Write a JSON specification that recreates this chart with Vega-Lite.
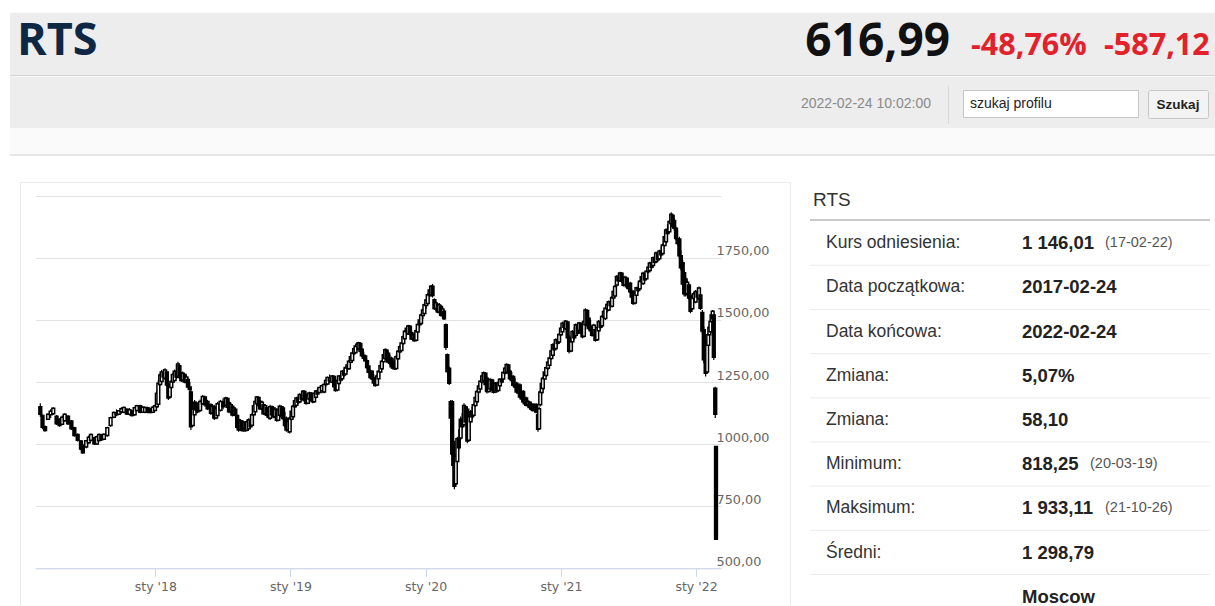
{
  "$schema": "https://vega.github.io/schema/vega-lite/v6.json",
  "width": 1215,
  "height": 606,
  "autosize": {"type": "none"},
  "padding": 0,
  "background": "#ffffff",
  "config": {"view": {"stroke": null}, "text": {"font": "Liberation Sans"}},
  "datasets": {
    "rts": [
      {"d":"2017-02-24","o":1150,"h":1164,"l":1110,"c":1120},
      {"d":"2017-03-02","o":1115,"h":1120,"l":1060,"c":1068},
      {"d":"2017-03-09","o":1070,"h":1075,"l":1050,"c":1055},
      {"d":"2017-03-17","o":1100,"h":1124,"l":1097,"c":1120},
      {"d":"2017-03-24","o":1118,"h":1140,"l":1105,"c":1132},
      {"d":"2017-03-31","o":1122,"h":1148,"l":1117,"c":1144},
      {"d":"2017-04-09","o":1112,"h":1117,"l":1077,"c":1082},
      {"d":"2017-04-17","o":1100,"h":1104,"l":1070,"c":1075},
      {"d":"2017-04-24","o":1080,"h":1115,"l":1076,"c":1108},
      {"d":"2017-05-01","o":1094,"h":1124,"l":1090,"c":1120},
      {"d":"2017-05-10","o":1112,"h":1117,"l":1077,"c":1082},
      {"d":"2017-05-19","o":1093,"h":1097,"l":1057,"c":1062},
      {"d":"2017-05-27","o":1066,"h":1070,"l":1030,"c":1035},
      {"d":"2017-06-05","o":1039,"h":1043,"l":1010,"c":1015},
      {"d":"2017-06-14","o":1012,"h":1017,"l":975,"c":980},
      {"d":"2017-06-19","o":995,"h":1000,"l":960,"c":965},
      {"d":"2017-06-28","o":988,"h":1017,"l":983,"c":1013},
      {"d":"2017-07-05","o":1005,"h":1035,"l":1000,"c":1028},
      {"d":"2017-07-11","o":1015,"h":1043,"l":1010,"c":1039},
      {"d":"2017-07-20","o":1026,"h":1030,"l":996,"c":1001},
      {"d":"2017-07-27","o":1000,"h":1035,"l":996,"c":1030},
      {"d":"2017-08-02","o":1014,"h":1043,"l":1010,"c":1039},
      {"d":"2017-08-08","o":1036,"h":1040,"l":1012,"c":1018},
      {"d":"2017-08-15","o":1020,"h":1043,"l":1017,"c":1040},
      {"d":"2017-08-24","o":1035,"h":1070,"l":1030,"c":1066},
      {"d":"2017-09-02","o":1075,"h":1110,"l":1070,"c":1106},
      {"d":"2017-09-11","o":1108,"h":1131,"l":1104,"c":1127},
      {"d":"2017-09-18","o":1125,"h":1140,"l":1112,"c":1118},
      {"d":"2017-09-24","o":1120,"h":1137,"l":1117,"c":1134},
      {"d":"2017-10-01","o":1130,"h":1148,"l":1122,"c":1142},
      {"d":"2017-10-08","o":1128,"h":1151,"l":1124,"c":1147},
      {"d":"2017-10-16","o":1140,"h":1144,"l":1117,"c":1121},
      {"d":"2017-10-23","o":1120,"h":1145,"l":1115,"c":1138},
      {"d":"2017-10-30","o":1133,"h":1137,"l":1111,"c":1115},
      {"d":"2017-11-06","o":1118,"h":1150,"l":1114,"c":1146},
      {"d":"2017-11-12","o":1135,"h":1158,"l":1131,"c":1154},
      {"d":"2017-11-21","o":1154,"h":1158,"l":1124,"c":1128},
      {"d":"2017-11-28","o":1128,"h":1152,"l":1125,"c":1148},
      {"d":"2017-12-04","o":1128,"h":1151,"l":1124,"c":1147},
      {"d":"2017-12-11","o":1146,"h":1150,"l":1124,"c":1130},
      {"d":"2017-12-18","o":1141,"h":1144,"l":1124,"c":1127},
      {"d":"2017-12-25","o":1128,"h":1152,"l":1125,"c":1148},
      {"d":"2017-12-31","o":1135,"h":1158,"l":1131,"c":1154},
      {"d":"2018-01-05","o":1150,"h":1215,"l":1145,"c":1205},
      {"d":"2018-01-09","o":1160,"h":1258,"l":1151,"c":1245},
      {"d":"2018-01-14","o":1240,"h":1285,"l":1235,"c":1278},
      {"d":"2018-01-18","o":1252,"h":1298,"l":1245,"c":1290},
      {"d":"2018-01-23","o":1285,"h":1302,"l":1262,"c":1270},
      {"d":"2018-01-27","o":1265,"h":1305,"l":1258,"c":1298},
      {"d":"2018-02-01","o":1290,"h":1295,"l":1230,"c":1238},
      {"d":"2018-02-05","o":1238,"h":1245,"l":1178,"c":1186},
      {"d":"2018-02-09","o":1190,"h":1240,"l":1185,"c":1232},
      {"d":"2018-02-13","o":1228,"h":1258,"l":1224,"c":1252},
      {"d":"2018-02-17","o":1250,"h":1285,"l":1245,"c":1280},
      {"d":"2018-02-22","o":1256,"h":1300,"l":1250,"c":1293},
      {"d":"2018-02-27","o":1290,"h":1320,"l":1262,"c":1270},
      {"d":"2018-03-03","o":1272,"h":1332,"l":1265,"c":1322},
      {"d":"2018-03-07","o":1315,"h":1320,"l":1262,"c":1270},
      {"d":"2018-03-12","o":1285,"h":1290,"l":1250,"c":1256},
      {"d":"2018-03-16","o":1258,"h":1292,"l":1252,"c":1285},
      {"d":"2018-03-21","o":1280,"h":1285,"l":1245,"c":1250},
      {"d":"2018-03-26","o":1250,"h":1278,"l":1240,"c":1270},
      {"d":"2018-03-30","o":1260,"h":1265,"l":1225,"c":1230},
      {"d":"2018-04-04","o":1230,"h":1250,"l":1210,"c":1220},
      {"d":"2018-04-07","o":1210,"h":1218,"l":1057,"c":1070},
      {"d":"2018-04-12","o":1075,"h":1150,"l":1070,"c":1140},
      {"d":"2018-04-17","o":1118,"h":1178,"l":1111,"c":1168},
      {"d":"2018-04-21","o":1165,"h":1172,"l":1130,"c":1138},
      {"d":"2018-04-25","o":1160,"h":1164,"l":1124,"c":1130},
      {"d":"2018-05-02","o":1135,"h":1180,"l":1130,"c":1172},
      {"d":"2018-05-09","o":1162,"h":1198,"l":1158,"c":1192},
      {"d":"2018-05-15","o":1190,"h":1195,"l":1150,"c":1158},
      {"d":"2018-05-22","o":1172,"h":1178,"l":1137,"c":1142},
      {"d":"2018-05-31","o":1158,"h":1164,"l":1117,"c":1124},
      {"d":"2018-06-04","o":1125,"h":1160,"l":1120,"c":1152},
      {"d":"2018-06-09","o":1150,"h":1158,"l":1097,"c":1105},
      {"d":"2018-06-14","o":1105,"h":1150,"l":1100,"c":1142},
      {"d":"2018-06-18","o":1115,"h":1170,"l":1110,"c":1162},
      {"d":"2018-06-26","o":1136,"h":1178,"l":1131,"c":1172},
      {"d":"2018-07-03","o":1170,"h":1185,"l":1140,"c":1150},
      {"d":"2018-07-10","o":1156,"h":1191,"l":1151,"c":1186},
      {"d":"2018-07-15","o":1184,"h":1188,"l":1140,"c":1148},
      {"d":"2018-07-19","o":1166,"h":1171,"l":1124,"c":1130},
      {"d":"2018-07-24","o":1132,"h":1165,"l":1128,"c":1158},
      {"d":"2018-07-28","o":1152,"h":1158,"l":1111,"c":1117},
      {"d":"2018-08-01","o":1118,"h":1150,"l":1114,"c":1145},
      {"d":"2018-08-05","o":1140,"h":1144,"l":1111,"c":1116},
      {"d":"2018-08-10","o":1115,"h":1118,"l":1062,"c":1068},
      {"d":"2018-08-14","o":1098,"h":1104,"l":1050,"c":1057},
      {"d":"2018-08-19","o":1058,"h":1100,"l":1052,"c":1094},
      {"d":"2018-08-23","o":1092,"h":1097,"l":1050,"c":1056},
      {"d":"2018-08-28","o":1055,"h":1092,"l":1050,"c":1088},
      {"d":"2018-09-01","o":1086,"h":1090,"l":1050,"c":1055},
      {"d":"2018-09-05","o":1056,"h":1095,"l":1052,"c":1090},
      {"d":"2018-09-10","o":1062,"h":1104,"l":1057,"c":1098},
      {"d":"2018-09-15","o":1098,"h":1115,"l":1062,"c":1070},
      {"d":"2018-09-19","o":1076,"h":1124,"l":1070,"c":1118},
      {"d":"2018-09-24","o":1118,"h":1160,"l":1114,"c":1154},
      {"d":"2018-09-28","o":1130,"h":1178,"l":1124,"c":1172},
      {"d":"2018-10-02","o":1162,"h":1194,"l":1158,"c":1190},
      {"d":"2018-10-07","o":1188,"h":1192,"l":1148,"c":1155},
      {"d":"2018-10-11","o":1172,"h":1178,"l":1137,"c":1142},
      {"d":"2018-10-16","o":1142,"h":1175,"l":1138,"c":1168},
      {"d":"2018-10-20","o":1158,"h":1164,"l":1117,"c":1122},
      {"d":"2018-10-25","o":1122,"h":1160,"l":1118,"c":1154},
      {"d":"2018-10-29","o":1146,"h":1151,"l":1111,"c":1116},
      {"d":"2018-11-03","o":1116,"h":1150,"l":1100,"c":1108},
      {"d":"2018-11-07","o":1104,"h":1158,"l":1097,"c":1150},
      {"d":"2018-11-12","o":1150,"h":1155,"l":1110,"c":1118},
      {"d":"2018-11-16","o":1145,"h":1151,"l":1104,"c":1110},
      {"d":"2018-11-20","o":1110,"h":1148,"l":1105,"c":1140},
      {"d":"2018-11-25","o":1138,"h":1144,"l":1090,"c":1096},
      {"d":"2018-11-29","o":1096,"h":1145,"l":1092,"c":1138},
      {"d":"2018-12-03","o":1116,"h":1158,"l":1111,"c":1152},
      {"d":"2018-12-08","o":1150,"h":1155,"l":1105,"c":1110},
      {"d":"2018-12-12","o":1145,"h":1151,"l":1097,"c":1103},
      {"d":"2018-12-17","o":1102,"h":1130,"l":1068,"c":1075},
      {"d":"2018-12-21","o":1104,"h":1111,"l":1050,"c":1057},
      {"d":"2018-12-26","o":1057,"h":1100,"l":1045,"c":1090},
      {"d":"2018-12-30","o":1050,"h":1111,"l":1043,"c":1104},
      {"d":"2019-01-04","o":1100,"h":1140,"l":1095,"c":1132},
      {"d":"2019-01-08","o":1110,"h":1158,"l":1104,"c":1152},
      {"d":"2019-01-13","o":1150,"h":1180,"l":1145,"c":1175},
      {"d":"2019-01-17","o":1156,"h":1191,"l":1151,"c":1186},
      {"d":"2019-01-22","o":1185,"h":1195,"l":1160,"c":1168},
      {"d":"2019-01-26","o":1170,"h":1205,"l":1164,"c":1200},
      {"d":"2019-01-31","o":1198,"h":1212,"l":1175,"c":1182},
      {"d":"2019-02-04","o":1183,"h":1218,"l":1178,"c":1213},
      {"d":"2019-02-08","o":1212,"h":1216,"l":1170,"c":1176},
      {"d":"2019-02-12","o":1199,"h":1205,"l":1158,"c":1164},
      {"d":"2019-02-17","o":1164,"h":1205,"l":1160,"c":1198},
      {"d":"2019-02-21","o":1182,"h":1211,"l":1178,"c":1206},
      {"d":"2019-02-26","o":1205,"h":1210,"l":1170,"c":1176},
      {"d":"2019-03-02","o":1200,"h":1205,"l":1164,"c":1170},
      {"d":"2019-03-06","o":1170,"h":1210,"l":1166,"c":1204},
      {"d":"2019-03-11","o":1189,"h":1218,"l":1185,"c":1214},
      {"d":"2019-03-15","o":1212,"h":1225,"l":1196,"c":1202},
      {"d":"2019-03-20","o":1208,"h":1231,"l":1205,"c":1228},
      {"d":"2019-03-27","o":1215,"h":1240,"l":1205,"c":1235},
      {"d":"2019-04-02","o":1210,"h":1245,"l":1205,"c":1240},
      {"d":"2019-04-07","o":1240,"h":1262,"l":1232,"c":1256},
      {"d":"2019-04-11","o":1242,"h":1272,"l":1238,"c":1268},
      {"d":"2019-04-17","o":1255,"h":1280,"l":1245,"c":1262},
      {"d":"2019-04-24","o":1249,"h":1278,"l":1245,"c":1274},
      {"d":"2019-04-29","o":1272,"h":1276,"l":1226,"c":1232},
      {"d":"2019-05-03","o":1246,"h":1251,"l":1211,"c":1216},
      {"d":"2019-05-08","o":1218,"h":1262,"l":1213,"c":1256},
      {"d":"2019-05-12","o":1244,"h":1278,"l":1240,"c":1274},
      {"d":"2019-05-17","o":1270,"h":1288,"l":1250,"c":1258},
      {"d":"2019-05-21","o":1263,"h":1298,"l":1258,"c":1293},
      {"d":"2019-05-26","o":1290,"h":1305,"l":1270,"c":1278},
      {"d":"2019-05-30","o":1282,"h":1312,"l":1278,"c":1308},
      {"d":"2019-06-04","o":1305,"h":1325,"l":1290,"c":1318},
      {"d":"2019-06-08","o":1303,"h":1339,"l":1298,"c":1334},
      {"d":"2019-06-13","o":1330,"h":1358,"l":1325,"c":1352},
      {"d":"2019-06-17","o":1337,"h":1372,"l":1332,"c":1367},
      {"d":"2019-06-22","o":1365,"h":1390,"l":1358,"c":1384},
      {"d":"2019-06-26","o":1369,"h":1399,"l":1365,"c":1395},
      {"d":"2019-06-30","o":1393,"h":1408,"l":1378,"c":1402},
      {"d":"2019-07-04","o":1383,"h":1412,"l":1379,"c":1408},
      {"d":"2019-07-09","o":1405,"h":1410,"l":1368,"c":1374},
      {"d":"2019-07-13","o":1382,"h":1386,"l":1352,"c":1356},
      {"d":"2019-07-18","o":1358,"h":1372,"l":1340,"c":1346},
      {"d":"2019-07-22","o":1355,"h":1359,"l":1332,"c":1336},
      {"d":"2019-07-27","o":1336,"h":1340,"l":1302,"c":1308},
      {"d":"2019-07-31","o":1314,"h":1318,"l":1285,"c":1289},
      {"d":"2019-08-05","o":1290,"h":1300,"l":1262,"c":1268},
      {"d":"2019-08-09","o":1293,"h":1298,"l":1258,"c":1263},
      {"d":"2019-08-14","o":1262,"h":1282,"l":1240,"c":1246},
      {"d":"2019-08-18","o":1267,"h":1272,"l":1231,"c":1236},
      {"d":"2019-08-23","o":1238,"h":1280,"l":1234,"c":1274},
      {"d":"2019-08-27","o":1263,"h":1298,"l":1258,"c":1293},
      {"d":"2019-09-01","o":1290,"h":1320,"l":1285,"c":1315},
      {"d":"2019-09-05","o":1303,"h":1339,"l":1298,"c":1334},
      {"d":"2019-09-10","o":1332,"h":1365,"l":1328,"c":1360},
      {"d":"2019-09-14","o":1345,"h":1386,"l":1339,"c":1380},
      {"d":"2019-09-18","o":1378,"h":1384,"l":1340,"c":1346},
      {"d":"2019-09-22","o":1366,"h":1372,"l":1325,"c":1331},
      {"d":"2019-09-27","o":1330,"h":1360,"l":1318,"c":1325},
      {"d":"2019-10-01","o":1346,"h":1352,"l":1305,"c":1311},
      {"d":"2019-10-05","o":1312,"h":1345,"l":1300,"c":1306},
      {"d":"2019-10-10","o":1334,"h":1339,"l":1298,"c":1303},
      {"d":"2019-10-14","o":1304,"h":1360,"l":1300,"c":1352},
      {"d":"2019-10-19","o":1344,"h":1379,"l":1339,"c":1374},
      {"d":"2019-10-24","o":1372,"h":1398,"l":1366,"c":1392},
      {"d":"2019-10-28","o":1377,"h":1412,"l":1372,"c":1407},
      {"d":"2019-11-02","o":1405,"h":1438,"l":1400,"c":1432},
      {"d":"2019-11-06","o":1424,"h":1459,"l":1419,"c":1454},
      {"d":"2019-11-11","o":1452,"h":1472,"l":1440,"c":1466},
      {"d":"2019-11-15","o":1444,"h":1480,"l":1439,"c":1475},
      {"d":"2019-11-20","o":1474,"h":1478,"l":1436,"c":1442},
      {"d":"2019-11-24","o":1449,"h":1453,"l":1419,"c":1423},
      {"d":"2019-11-28","o":1424,"h":1448,"l":1415,"c":1440},
      {"d":"2019-12-02","o":1442,"h":1446,"l":1412,"c":1416},
      {"d":"2019-12-07","o":1418,"h":1462,"l":1414,"c":1456},
      {"d":"2019-12-11","o":1451,"h":1486,"l":1446,"c":1481},
      {"d":"2019-12-16","o":1480,"h":1505,"l":1465,"c":1500},
      {"d":"2019-12-20","o":1486,"h":1526,"l":1480,"c":1520},
      {"d":"2019-12-25","o":1518,"h":1545,"l":1505,"c":1540},
      {"d":"2019-12-29","o":1526,"h":1567,"l":1520,"c":1561},
      {"d":"2020-01-03","o":1558,"h":1585,"l":1545,"c":1580},
      {"d":"2020-01-07","o":1566,"h":1607,"l":1560,"c":1601},
      {"d":"2020-01-12","o":1598,"h":1625,"l":1590,"c":1620},
      {"d":"2020-01-16","o":1600,"h":1641,"l":1594,"c":1635},
      {"d":"2020-01-20","o":1635,"h":1645,"l":1590,"c":1598},
      {"d":"2020-01-25","o":1581,"h":1587,"l":1540,"c":1546},
      {"d":"2020-01-29","o":1546,"h":1575,"l":1535,"c":1568},
      {"d":"2020-02-03","o":1562,"h":1567,"l":1527,"c":1532},
      {"d":"2020-02-07","o":1532,"h":1568,"l":1526,"c":1560},
      {"d":"2020-02-12","o":1554,"h":1560,"l":1513,"c":1519},
      {"d":"2020-02-16","o":1520,"h":1550,"l":1510,"c":1544},
      {"d":"2020-02-20","o":1535,"h":1540,"l":1500,"c":1505},
      {"d":"2020-02-25","o":1480,"h":1486,"l":1379,"c":1390},
      {"d":"2020-02-29","o":1360,"h":1365,"l":1285,"c":1292},
      {"d":"2020-03-05","o":1305,"h":1312,"l":1238,"c":1245},
      {"d":"2020-03-09","o":1170,"h":1178,"l":1097,"c":1105},
      {"d":"2020-03-13","o":1170,"h":1178,"l":950,"c":960},
      {"d":"2020-03-16","o":1010,"h":1017,"l":909,"c":915},
      {"d":"2020-03-19","o":918,"h":923,"l":818,"c":830},
      {"d":"2020-03-23","o":840,"h":960,"l":835,"c":950},
      {"d":"2020-03-27","o":930,"h":1030,"l":923,"c":1022},
      {"d":"2020-03-31","o":1020,"h":1060,"l":975,"c":985},
      {"d":"2020-04-05","o":1025,"h":1111,"l":1017,"c":1100},
      {"d":"2020-04-09","o":1100,"h":1125,"l":1060,"c":1070},
      {"d":"2020-04-14","o":1078,"h":1164,"l":1070,"c":1155},
      {"d":"2020-04-18","o":1150,"h":1158,"l":1080,"c":1090},
      {"d":"2020-04-23","o":1140,"h":1151,"l":1003,"c":1012},
      {"d":"2020-04-27","o":1015,"h":1120,"l":1010,"c":1110},
      {"d":"2020-05-02","o":1090,"h":1137,"l":1084,"c":1130},
      {"d":"2020-05-06","o":1128,"h":1150,"l":1100,"c":1110},
      {"d":"2020-05-10","o":1116,"h":1164,"l":1111,"c":1158},
      {"d":"2020-05-15","o":1155,"h":1195,"l":1150,"c":1188},
      {"d":"2020-05-19","o":1170,"h":1218,"l":1164,"c":1212},
      {"d":"2020-05-24","o":1210,"h":1240,"l":1204,"c":1234},
      {"d":"2020-05-28","o":1222,"h":1258,"l":1218,"c":1253},
      {"d":"2020-06-02","o":1250,"h":1280,"l":1244,"c":1274},
      {"d":"2020-06-06","o":1256,"h":1292,"l":1251,"c":1287},
      {"d":"2020-06-11","o":1285,"h":1290,"l":1232,"c":1240},
      {"d":"2020-06-15","o":1265,"h":1272,"l":1204,"c":1212},
      {"d":"2020-06-20","o":1212,"h":1262,"l":1208,"c":1255},
      {"d":"2020-06-24","o":1222,"h":1265,"l":1218,"c":1260},
      {"d":"2020-06-29","o":1258,"h":1262,"l":1212,"c":1218},
      {"d":"2020-07-03","o":1246,"h":1251,"l":1204,"c":1209},
      {"d":"2020-07-08","o":1210,"h":1250,"l":1206,"c":1244},
      {"d":"2020-07-12","o":1240,"h":1245,"l":1211,"c":1215},
      {"d":"2020-07-16","o":1216,"h":1252,"l":1212,"c":1248},
      {"d":"2020-07-20","o":1235,"h":1265,"l":1231,"c":1261},
      {"d":"2020-07-25","o":1260,"h":1280,"l":1244,"c":1250},
      {"d":"2020-07-29","o":1262,"h":1292,"l":1258,"c":1288},
      {"d":"2020-08-03","o":1286,"h":1310,"l":1280,"c":1305},
      {"d":"2020-08-07","o":1290,"h":1325,"l":1285,"c":1320},
      {"d":"2020-08-12","o":1318,"h":1322,"l":1280,"c":1286},
      {"d":"2020-08-16","o":1293,"h":1298,"l":1258,"c":1263},
      {"d":"2020-08-21","o":1264,"h":1290,"l":1250,"c":1256},
      {"d":"2020-08-25","o":1272,"h":1278,"l":1231,"c":1237},
      {"d":"2020-08-30","o":1238,"h":1265,"l":1225,"c":1230},
      {"d":"2020-09-03","o":1245,"h":1251,"l":1204,"c":1210},
      {"d":"2020-09-08","o":1212,"h":1240,"l":1200,"c":1206},
      {"d":"2020-09-12","o":1238,"h":1245,"l":1184,"c":1190},
      {"d":"2020-09-17","o":1192,"h":1215,"l":1176,"c":1182},
      {"d":"2020-09-21","o":1212,"h":1218,"l":1164,"c":1170},
      {"d":"2020-09-25","o":1170,"h":1195,"l":1156,"c":1162},
      {"d":"2020-09-29","o":1186,"h":1191,"l":1151,"c":1156},
      {"d":"2020-10-04","o":1158,"h":1178,"l":1148,"c":1172},
      {"d":"2020-10-08","o":1168,"h":1171,"l":1144,"c":1147},
      {"d":"2020-10-13","o":1148,"h":1170,"l":1136,"c":1140},
      {"d":"2020-10-17","o":1160,"h":1164,"l":1131,"c":1135},
      {"d":"2020-10-22","o":1136,"h":1162,"l":1130,"c":1156},
      {"d":"2020-10-26","o":1159,"h":1164,"l":1124,"c":1129},
      {"d":"2020-10-31","o":1118,"h":1124,"l":1050,"c":1060},
      {"d":"2020-11-03","o":1062,"h":1150,"l":1058,"c":1142},
      {"d":"2020-11-06","o":1158,"h":1218,"l":1151,"c":1210},
      {"d":"2020-11-10","o":1208,"h":1250,"l":1200,"c":1244},
      {"d":"2020-11-13","o":1224,"h":1271,"l":1218,"c":1265},
      {"d":"2020-11-18","o":1262,"h":1295,"l":1258,"c":1290},
      {"d":"2020-11-22","o":1276,"h":1312,"l":1271,"c":1307},
      {"d":"2020-11-27","o":1305,"h":1335,"l":1298,"c":1330},
      {"d":"2020-12-01","o":1317,"h":1352,"l":1312,"c":1347},
      {"d":"2020-12-06","o":1345,"h":1380,"l":1340,"c":1375},
      {"d":"2020-12-10","o":1358,"h":1406,"l":1352,"c":1400},
      {"d":"2020-12-14","o":1398,"h":1412,"l":1372,"c":1380},
      {"d":"2020-12-18","o":1385,"h":1426,"l":1379,"c":1420},
      {"d":"2020-12-23","o":1418,"h":1440,"l":1398,"c":1406},
      {"d":"2020-12-27","o":1411,"h":1446,"l":1406,"c":1441},
      {"d":"2021-01-01","o":1440,"h":1472,"l":1435,"c":1466},
      {"d":"2021-01-05","o":1452,"h":1493,"l":1446,"c":1487},
      {"d":"2021-01-10","o":1485,"h":1498,"l":1462,"c":1470},
      {"d":"2021-01-14","o":1464,"h":1500,"l":1459,"c":1495},
      {"d":"2021-01-19","o":1492,"h":1496,"l":1420,"c":1428},
      {"d":"2021-01-23","o":1430,"h":1439,"l":1365,"c":1374},
      {"d":"2021-01-28","o":1375,"h":1420,"l":1370,"c":1412},
      {"d":"2021-02-01","o":1412,"h":1459,"l":1406,"c":1453},
      {"d":"2021-02-06","o":1450,"h":1470,"l":1420,"c":1428},
      {"d":"2021-02-10","o":1438,"h":1486,"l":1432,"c":1480},
      {"d":"2021-02-15","o":1478,"h":1482,"l":1440,"c":1446},
      {"d":"2021-02-19","o":1458,"h":1493,"l":1453,"c":1488},
      {"d":"2021-02-24","o":1486,"h":1490,"l":1442,"c":1448},
      {"d":"2021-02-28","o":1474,"h":1480,"l":1426,"c":1432},
      {"d":"2021-03-04","o":1434,"h":1500,"l":1430,"c":1494},
      {"d":"2021-03-08","o":1480,"h":1547,"l":1473,"c":1540},
      {"d":"2021-03-13","o":1538,"h":1542,"l":1470,"c":1478},
      {"d":"2021-03-17","o":1507,"h":1513,"l":1459,"c":1465},
      {"d":"2021-03-22","o":1466,"h":1500,"l":1450,"c":1456},
      {"d":"2021-03-26","o":1474,"h":1480,"l":1432,"c":1438},
      {"d":"2021-03-31","o":1440,"h":1485,"l":1435,"c":1478},
      {"d":"2021-04-04","o":1460,"h":1466,"l":1412,"c":1418},
      {"d":"2021-04-09","o":1420,"h":1475,"l":1415,"c":1468},
      {"d":"2021-04-13","o":1456,"h":1500,"l":1450,"c":1494},
      {"d":"2021-04-18","o":1492,"h":1505,"l":1462,"c":1470},
      {"d":"2021-04-22","o":1476,"h":1520,"l":1470,"c":1514},
      {"d":"2021-04-27","o":1512,"h":1540,"l":1505,"c":1534},
      {"d":"2021-05-01","o":1506,"h":1553,"l":1500,"c":1547},
      {"d":"2021-05-06","o":1545,"h":1568,"l":1530,"c":1562},
      {"d":"2021-05-10","o":1540,"h":1578,"l":1535,"c":1573},
      {"d":"2021-05-15","o":1570,"h":1590,"l":1550,"c":1558},
      {"d":"2021-05-19","o":1555,"h":1595,"l":1550,"c":1590},
      {"d":"2021-05-23","o":1588,"h":1620,"l":1582,"c":1614},
      {"d":"2021-05-27","o":1596,"h":1640,"l":1590,"c":1634},
      {"d":"2021-06-01","o":1640,"h":1681,"l":1634,"c":1675},
      {"d":"2021-06-05","o":1672,"h":1690,"l":1650,"c":1658},
      {"d":"2021-06-10","o":1659,"h":1694,"l":1654,"c":1689},
      {"d":"2021-06-14","o":1688,"h":1692,"l":1650,"c":1656},
      {"d":"2021-06-19","o":1669,"h":1674,"l":1634,"c":1639},
      {"d":"2021-06-23","o":1640,"h":1678,"l":1636,"c":1672},
      {"d":"2021-06-28","o":1668,"h":1674,"l":1627,"c":1633},
      {"d":"2021-07-02","o":1634,"h":1660,"l":1620,"c":1626},
      {"d":"2021-07-07","o":1648,"h":1654,"l":1607,"c":1613},
      {"d":"2021-07-11","o":1614,"h":1625,"l":1585,"c":1592},
      {"d":"2021-07-15","o":1613,"h":1620,"l":1560,"c":1567},
      {"d":"2021-07-20","o":1568,"h":1612,"l":1562,"c":1606},
      {"d":"2021-07-24","o":1599,"h":1634,"l":1594,"c":1629},
      {"d":"2021-07-29","o":1628,"h":1648,"l":1610,"c":1618},
      {"d":"2021-08-02","o":1625,"h":1661,"l":1620,"c":1656},
      {"d":"2021-08-07","o":1654,"h":1680,"l":1648,"c":1674},
      {"d":"2021-08-11","o":1647,"h":1694,"l":1641,"c":1688},
      {"d":"2021-08-16","o":1686,"h":1690,"l":1655,"c":1662},
      {"d":"2021-08-20","o":1666,"h":1701,"l":1661,"c":1696},
      {"d":"2021-08-25","o":1694,"h":1718,"l":1688,"c":1712},
      {"d":"2021-08-29","o":1699,"h":1734,"l":1694,"c":1729},
      {"d":"2021-09-03","o":1728,"h":1745,"l":1705,"c":1712},
      {"d":"2021-09-07","o":1719,"h":1755,"l":1714,"c":1750},
      {"d":"2021-09-11","o":1748,"h":1765,"l":1725,"c":1732},
      {"d":"2021-09-15","o":1734,"h":1775,"l":1728,"c":1769},
      {"d":"2021-09-20","o":1766,"h":1772,"l":1735,"c":1742},
      {"d":"2021-09-24","o":1746,"h":1782,"l":1741,"c":1777},
      {"d":"2021-09-29","o":1775,"h":1795,"l":1755,"c":1762},
      {"d":"2021-10-03","o":1767,"h":1808,"l":1761,"c":1802},
      {"d":"2021-10-08","o":1800,"h":1840,"l":1795,"c":1835},
      {"d":"2021-10-12","o":1815,"h":1869,"l":1808,"c":1862},
      {"d":"2021-10-16","o":1860,"h":1885,"l":1840,"c":1848},
      {"d":"2021-10-21","o":1855,"h":1902,"l":1849,"c":1896},
      {"d":"2021-10-26","o":1888,"h":1933,"l":1882,"c":1925},
      {"d":"2021-10-30","o":1920,"h":1926,"l":1868,"c":1876},
      {"d":"2021-11-03","o":1900,"h":1910,"l":1860,"c":1870},
      {"d":"2021-11-08","o":1869,"h":1875,"l":1822,"c":1828},
      {"d":"2021-11-12","o":1826,"h":1860,"l":1800,"c":1808},
      {"d":"2021-11-17","o":1826,"h":1835,"l":1748,"c":1758},
      {"d":"2021-11-21","o":1758,"h":1780,"l":1700,"c":1710},
      {"d":"2021-11-26","o":1730,"h":1741,"l":1634,"c":1645},
      {"d":"2021-11-30","o":1690,"h":1701,"l":1594,"c":1605},
      {"d":"2021-12-04","o":1665,"h":1674,"l":1594,"c":1602},
      {"d":"2021-12-08","o":1605,"h":1660,"l":1598,"c":1652},
      {"d":"2021-12-13","o":1640,"h":1647,"l":1580,"c":1588},
      {"d":"2021-12-17","o":1598,"h":1607,"l":1527,"c":1535},
      {"d":"2021-12-22","o":1545,"h":1594,"l":1540,"c":1588},
      {"d":"2021-12-26","o":1586,"h":1612,"l":1575,"c":1605},
      {"d":"2021-12-31","o":1572,"h":1620,"l":1567,"c":1614},
      {"d":"2022-01-05","o":1612,"h":1630,"l":1585,"c":1592},
      {"d":"2022-01-09","o":1586,"h":1634,"l":1580,"c":1628},
      {"d":"2022-01-13","o":1600,"h":1607,"l":1540,"c":1547},
      {"d":"2022-01-18","o":1530,"h":1540,"l":1446,"c":1455},
      {"d":"2022-01-22","o":1460,"h":1473,"l":1325,"c":1340},
      {"d":"2022-01-27","o":1405,"h":1419,"l":1272,"c":1285},
      {"d":"2022-01-31","o":1290,"h":1420,"l":1285,"c":1410},
      {"d":"2022-02-03","o":1398,"h":1446,"l":1392,"c":1440},
      {"d":"2022-02-06","o":1440,"h":1480,"l":1420,"c":1470},
      {"d":"2022-02-09","o":1452,"h":1500,"l":1446,"c":1494},
      {"d":"2022-02-12","o":1494,"h":1530,"l":1480,"c":1520},
      {"d":"2022-02-15","o":1505,"h":1540,"l":1500,"c":1535},
      {"d":"2022-02-18","o":1520,"h":1527,"l":1339,"c":1350},
      {"d":"2022-02-22","o":1225,"h":1231,"l":1105,"c":1120},
      {"d":"2022-02-24","o":990,"h":990,"l":617,"c":617}
    ],
    "stats": [
      {"row":1,"label":"Kurs odniesienia:","value":"1 146,01","note":"(17-02-22)"},
      {"row":2,"label":"Data początkowa:","value":"2017-02-24","note":""},
      {"row":3,"label":"Data końcowa:","value":"2022-02-24","note":""},
      {"row":4,"label":"Zmiana:","value":"5,07%","note":""},
      {"row":5,"label":"Zmiana:","value":"58,10","note":""},
      {"row":6,"label":"Minimum:","value":"818,25","note":"(20-03-19)"},
      {"row":7,"label":"Maksimum:","value":"1 933,11","note":"(21-10-26)"},
      {"row":8,"label":"Średni:","value":"1 298,79","note":""},
      {"row":9,"label":"","value":"Moscow","note":""}
    ]
  },
  "layer": [
    {"data": {"values": [{}]}, "mark": {"type": "rect", "fill": "#ededed"},
     "encoding": {"x": {"value": 10}, "x2": {"value": 1215}, "y": {"value": 12.7}, "y2": {"value": 128}}},
    {"data": {"values": [{}]}, "mark": {"type": "rect", "fill": "#fafafa"},
     "encoding": {"x": {"value": 10}, "x2": {"value": 1215}, "y": {"value": 128}, "y2": {"value": 154}}},
    {"data": {"values": [{}]}, "mark": {"type": "rule", "stroke": "#e6e6e6", "strokeWidth": 2},
     "encoding": {"x": {"value": 10}, "x2": {"value": 1215}, "y": {"value": 155}}},
    {"data": {"values": [{}]}, "mark": {"type": "rule", "stroke": "#d3d3d3", "strokeWidth": 1},
     "encoding": {"x": {"value": 10}, "x2": {"value": 1215}, "y": {"value": 75.5}}},
    {"data": {"values": [{}]}, "mark": {"type": "rule", "stroke": "#f9f9f9", "strokeWidth": 1},
     "encoding": {"x": {"value": 10}, "x2": {"value": 1215}, "y": {"value": 76.5}}},
    {"data": {"values": [{}]}, "mark": {"type": "rule", "stroke": "#d9d9d9", "strokeWidth": 1},
     "encoding": {"x": {"value": 948.5}, "y": {"value": 86}, "y2": {"value": 124}}},
    {"data": {"values": [{}]}, "mark": {"type": "rect", "fill": "#ffffff", "stroke": "#c6c6c6", "strokeWidth": 1},
     "encoding": {"x": {"value": 963.5}, "x2": {"value": 1138.5}, "y": {"value": 90.5}, "y2": {"value": 117.5}}},
    {"data": {"values": [{}]}, "mark": {"type": "rect", "fill": "#f3f3f3", "stroke": "#c6c6c6", "strokeWidth": 1, "cornerRadius": 2},
     "encoding": {"x": {"value": 1148.5}, "x2": {"value": 1208.5}, "y": {"value": 90.5}, "y2": {"value": 118.5}}},
    {"data": {"values": [{"t": "RTS"}]}, "mark": {"type": "text", "font": "Open Sans", "fontWeight": "bold", "fontSize": 45, "fill": "#0e2745", "align": "left", "baseline": "alphabetic"},
     "encoding": {"x": {"value": 17}, "y": {"value": 55}, "text": {"field": "t"}}},
    {"data": {"values": [{"t": "616,99"}]}, "mark": {"type": "text", "font": "Open Sans", "fontWeight": "bold", "fontSize": 46, "fill": "#111111", "align": "right", "baseline": "alphabetic"},
     "encoding": {"x": {"value": 950}, "y": {"value": 55.5}, "text": {"field": "t"}}},
    {"data": {"values": [{"t": "-48,76%"}]}, "mark": {"type": "text", "font": "Open Sans", "fontWeight": "bold", "fontSize": 30.5, "fill": "#e2212b", "align": "left", "baseline": "alphabetic"},
     "encoding": {"x": {"value": 971}, "y": {"value": 55}, "text": {"field": "t"}}},
    {"data": {"values": [{"t": "-587,12"}]}, "mark": {"type": "text", "font": "Open Sans", "fontWeight": "bold", "fontSize": 30.5, "fill": "#e2212b", "align": "left", "baseline": "alphabetic"},
     "encoding": {"x": {"value": 1104}, "y": {"value": 55}, "text": {"field": "t"}}},
    {"data": {"values": [{"t": "2022-02-24 10:02:00"}]}, "mark": {"type": "text", "font": "Liberation Sans", "fontSize": 14, "fill": "#8a8a8a", "align": "left", "baseline": "middle"},
     "encoding": {"x": {"value": 801}, "y": {"value": 103.5}, "text": {"field": "t"}}},
    {"data": {"values": [{"t": "szukaj profilu"}]}, "mark": {"type": "text", "font": "Liberation Sans", "fontSize": 14, "fill": "#222222", "align": "left", "baseline": "middle"},
     "encoding": {"x": {"value": 970}, "y": {"value": 103.5}, "text": {"field": "t"}}},
    {"data": {"values": [{"t": "Szukaj"}]}, "mark": {"type": "text", "font": "Liberation Sans", "fontWeight": "bold", "fontSize": 13.5, "fill": "#222222", "align": "center", "baseline": "middle"},
     "encoding": {"x": {"value": 1178}, "y": {"value": 104.5}, "text": {"field": "t"}}},
    {"data": {"values": [{}]}, "mark": {"type": "rect", "fill": null, "stroke": "#ebebeb", "strokeWidth": 1},
     "encoding": {"x": {"value": 20.5}, "x2": {"value": 790.5}, "y": {"value": 182.5}, "y2": {"value": 640}}},
    {"data": {"values": [{"t": "RTS"}]}, "mark": {"type": "text", "font": "Liberation Sans", "fontSize": 19, "fill": "#333333", "align": "left", "baseline": "middle"},
     "encoding": {"x": {"value": 813}, "y": {"value": 200}, "text": {"field": "t"}}},
    {"data": {"values": [{}]}, "mark": {"type": "rule", "stroke": "#b8b8b8", "strokeWidth": 1.5},
     "encoding": {"x": {"value": 810}, "x2": {"value": 1210}, "y": {"value": 220}}},
    {
      "data": {"name": "rts"},
      "encoding": {
        "x": {
          "field": "d", "type": "temporal",
          "scale": {"type": "utc", "domain": [{"year": 2017, "month": 2, "date": 24, "utc": true}, {"year": 2022, "month": 2, "date": 24, "utc": true}], "range": [35.3, 721]},
          "axis": {
            "orient": "bottom", "offset": -37.7, "title": null, "grid": false,
            "values": [
              {"year": 2018, "month": 1, "date": 1, "utc": true},
              {"year": 2019, "month": 1, "date": 1, "utc": true},
              {"year": 2020, "month": 1, "date": 1, "utc": true},
              {"year": 2021, "month": 1, "date": 1, "utc": true},
              {"year": 2022, "month": 1, "date": 1, "utc": true}
            ],
            "labelExpr": "\"sty '\" + utcFormat(datum.value, '%y')",
            "domainColor": "#ccd6eb", "tickColor": "#ccd6eb", "tickSize": 8,
            "labelFont": "DejaVu Sans", "labelFontSize": 12.5, "labelColor": "#666666",
            "labelPadding": 4, "labelFlush": false, "labelOverlap": false
          }
        }
      },
      "layer": [
        {
          "mark": {"type": "rule", "stroke": "#000000", "strokeWidth": 1.2},
          "encoding": {
            "y": {
              "field": "l", "type": "quantitative",
              "scale": {"domain": [500, 2000], "range": [568.3, 195.7], "zero": false, "nice": false},
              "axis": {
                "orient": "left", "title": null,
                "values": [500, 750, 1000, 1250, 1500, 1750, 2000],
                "grid": true, "gridColor": "#e2e2e2", "gridWidth": 1,
                "domain": false, "ticks": false, "labels": false
              }
            },
            "y2": {"field": "h"}
          }
        },
        {
          "mark": {"type": "bar", "size": 2.8, "stroke": "#000000", "strokeWidth": 1.5},
          "encoding": {
            "y": {
              "field": "o", "type": "quantitative",
              "axis": {
                "orient": "right", "offset": -503, "title": null, "grid": false,
                "values": [500, 750, 1000, 1250, 1500, 1750, 2000],
                "labelExpr": "datum.value >= 2000 ? '' : replace(format(datum.value, '.2f'), '.', ',')",
                "domain": false, "ticks": false,
                "labelPadding": 4, "labelAlign": "left", "labelBaseline": "middle", "labelOffset": -7,
                "labelFont": "DejaVu Sans", "labelFontSize": 12.8, "labelColor": "#666666",
                "labelFlush": false, "labelOverlap": false
              }
            },
            "y2": {"field": "c"},
            "fill": {"condition": {"test": "datum.o > datum.c", "value": "#000000"}, "value": "#ffffff"}
          }
        }
      ],
      "resolve": {"axis": {"y": "independent"}}
    },
    {
      "data": {"name": "stats"},
      "encoding": {
        "y": {"field": "row", "type": "ordinal", "scale": {"type": "point", "domain": [1, 2, 3, 4, 5, 6, 7, 8, 9], "range": [243.3, 596.7], "padding": 0}, "axis": null}
      },
      "layer": [
        {
          "transform": [{"filter": "datum.row < 9"}],
          "mark": {"type": "rule", "stroke": "#ececec", "strokeWidth": 1, "yOffset": 22},
          "encoding": {"x": {"value": 810}, "x2": {"value": 1210}}
        },
        {
          "mark": {"type": "text", "font": "Liberation Sans", "fontSize": 17.5, "fill": "#333333", "align": "left", "baseline": "middle"},
          "encoding": {
            "x": {"datum": "label", "type": "nominal", "scale": {"type": "point", "domain": ["label", "value"], "range": [826, 1022], "padding": 0}, "axis": null},
            "text": {"field": "label"}
          }
        },
        {
          "mark": {"type": "text", "font": "Liberation Sans", "fontWeight": "bold", "fontSize": 18.5, "fill": "#222222", "align": "left", "baseline": "middle"},
          "encoding": {
            "x": {"datum": "value", "type": "nominal"},
            "text": {"field": "value"}
          }
        },
        {
          "transform": [{"filter": "datum.row == 1 || datum.row == 7"}],
          "mark": {"type": "text", "font": "Liberation Sans", "fontSize": 14.5, "fill": "#555555", "align": "left", "baseline": "middle", "dx": 83},
          "encoding": {
            "x": {"datum": "value", "type": "nominal"},
            "text": {"field": "note"}
          }
        },
        {
          "transform": [{"filter": "datum.row == 6"}],
          "mark": {"type": "text", "font": "Liberation Sans", "fontSize": 14.5, "fill": "#555555", "align": "left", "baseline": "middle", "dx": 68},
          "encoding": {
            "x": {"datum": "value", "type": "nominal"},
            "text": {"field": "note"}
          }
        }
      ]
    }
  ],
  "resolve": {"scale": {"x": "independent", "y": "independent"}}
}
